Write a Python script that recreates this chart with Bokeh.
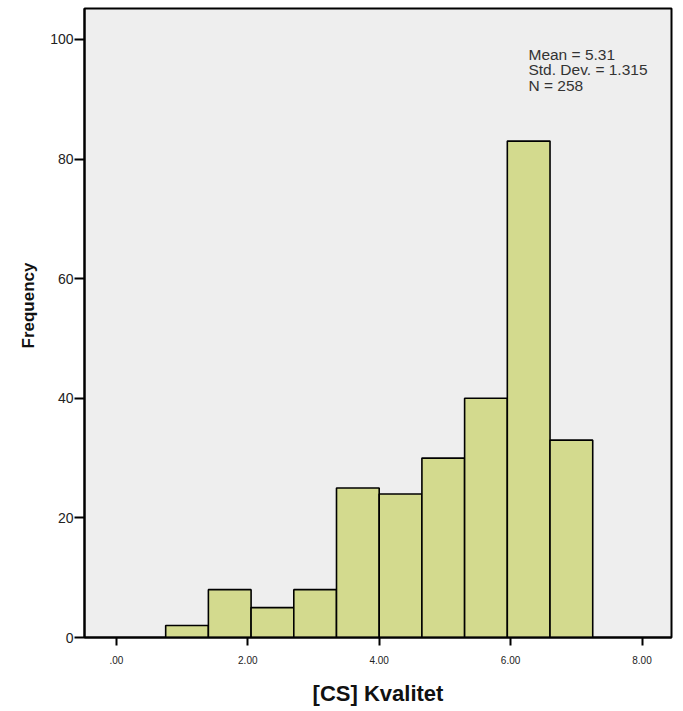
import math
from bokeh.plotting import figure
from bokeh.models import Label, FixedTicker, ColumnDataSource, Title
from bokeh.embed import file_html
from bokeh.resources import INLINE

# ---- data ----
bin_left = [0.75, 1.40, 2.05, 2.70, 3.35, 4.00, 4.65, 5.30, 5.95, 6.60]
bin_right = [1.40, 2.05, 2.70, 3.35, 4.00, 4.65, 5.30, 5.95, 6.60, 7.25]
counts = [2, 8, 5, 8, 25, 24, 30, 40, 83, 33]
x_ticks = [0, 2, 4, 6, 8]
x_tick_labels = [".00", "2.00", "4.00", "6.00", "8.00"]
y_ticks = [0, 20, 40, 60, 80, 100]
stat_mean = "5.31"
stat_sd = "1.315"
stat_n = "258"
x_title = "[CS] Kvalitet"
y_title = "Frequency"

FONT = "Liberation Sans"

p = figure(width=680, height=708, output_backend="svg", toolbar_location=None,
           x_range=(-0.4856, 8.449), y_range=(0, 105.17),
           min_border_left=84, min_border_right=9, min_border_top=8, min_border_bottom=69)

p.background_fill_color = "#eeeeee"
p.border_fill_color = "white"
p.outline_line_color = "black"
p.outline_line_width = 2
p.grid.visible = False

src = ColumnDataSource(dict(left=bin_left, right=bin_right, top=counts, bottom=[0] * len(counts)))
p.quad(left="left", right="right", top="top", bottom="bottom", source=src,
       fill_color="#d3da8e", line_color="black", line_width=1.6)

# x axis
p.xaxis.ticker = FixedTicker(ticks=x_ticks)
p.xaxis.major_label_overrides = {t: l for t, l in zip(x_ticks, x_tick_labels)}
p.xaxis.minor_tick_line_color = None
p.xaxis.major_tick_in = 0
p.xaxis.major_tick_out = 8
p.xaxis.major_tick_line_width = 2
p.xaxis.major_tick_line_color = "black"
p.xaxis.axis_line_color = "black"
p.xaxis.axis_line_width = 2
p.xaxis.major_label_text_font = FONT
p.xaxis.major_label_text_font_size = "10px"
p.xaxis.major_label_text_color = "#222222"
p.xaxis.major_label_standoff = 10
p.xaxis.axis_label = x_title
p.xaxis.axis_label_text_font = FONT
p.xaxis.axis_label_text_font_size = "22px"
p.xaxis.axis_label_text_font_style = "bold"
p.xaxis.axis_label_text_color = "#111111"
p.xaxis.axis_label_standoff = 14

# y axis
p.yaxis.ticker = FixedTicker(ticks=y_ticks)
p.yaxis.minor_tick_line_color = None
p.yaxis.major_tick_in = 0
p.yaxis.major_tick_out = 10
p.yaxis.major_tick_line_width = 2
p.yaxis.major_tick_line_color = "black"
p.yaxis.axis_line_color = "black"
p.yaxis.axis_line_width = 2
p.yaxis.major_label_text_font = FONT
p.yaxis.major_label_text_font_size = "14px"
p.yaxis.major_label_text_color = "#222222"
p.yaxis.major_label_standoff = 1

# y title (shifted slightly above the frame centre, as in the reference)
p.add_layout(Title(text=y_title, align="left", offset=289, standoff=20,
                   text_font=FONT, text_font_size="17px", text_font_style="bold",
                   text_color="#111111"), "left")

# statistics box
stats = [f"Mean = {stat_mean}", f"Std. Dev. = {stat_sd}", f"N = {stat_n}"]
ys = [97.5, 94.9, 92.3]
for s, yy in zip(stats, ys):
    p.add_layout(Label(x=6.272, y=yy, text=s, text_align="left", text_baseline="middle",
                       text_font=FONT, text_font_size="15.5px", text_color="#333333"))

open("out.html", "w").write(file_html(p, INLINE))
